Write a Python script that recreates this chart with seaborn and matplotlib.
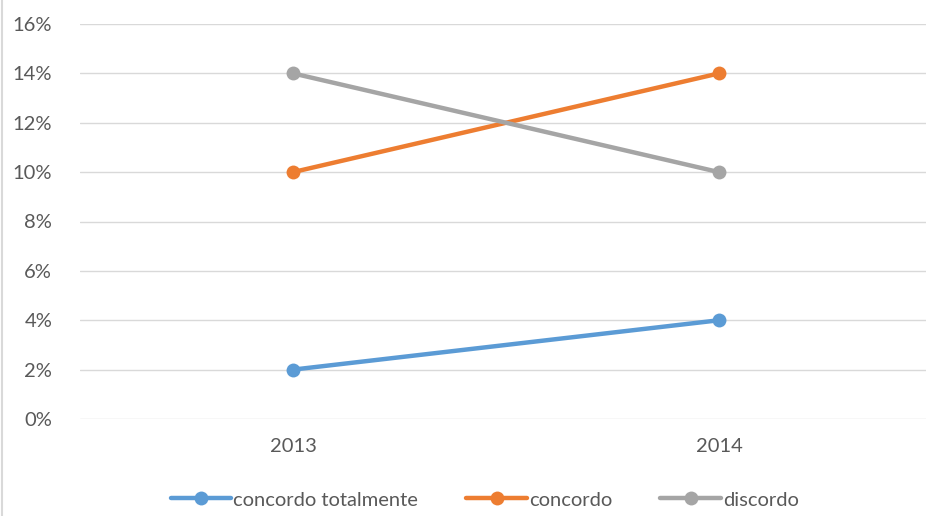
import numpy as np
import pandas as pd
import matplotlib
matplotlib.use("Agg")
import matplotlib.pyplot as plt
import seaborn as sns
from matplotlib.ticker import PercentFormatter

anos = ["2013", "2014"]
series = ["concordo totalmente", "concordo", "discordo"]
concordo_totalmente = [2, 4]
concordo = [10, 14]
discordo = [14, 10]
cores = ["#5B9BD5", "#ED7D31", "#A5A5A5"]

df = pd.DataFrame({
    "ano": anos * 3,
    "serie": [s for s in series for _ in anos],
    "valor": concordo_totalmente + concordo + discordo,
})

sns.set_theme(style="white")
plt.rcParams['font.family'] = ['Lato', 'DejaVu Sans']

fig = plt.figure(figsize=(9.26, 5.16), dpi=100)
ax = fig.add_axes([80/926, 1 - 419/516, 852/926, 395/516])

sns.lineplot(data=df, x="ano", y="valor", hue="serie", hue_order=series,
             palette=cores, marker="o", markersize=10, markeredgewidth=0,
             linewidth=3.2, ax=ax, sort=False)

ax.set_xlim(-0.5, 1.5)
ax.set_ylim(0, 16)
ax.set_yticks(np.arange(0, 17, 2))
ax.yaxis.set_major_formatter(PercentFormatter(decimals=0))
ax.grid(axis="y", color="#D9D9D9", linewidth=1)
ax.set_axisbelow(True)
for s in ax.spines.values():
    s.set_visible(False)
ax.tick_params(axis="both", length=0, labelsize=14.5, colors="#595959")
ax.tick_params(axis="y", pad=20)
ax.tick_params(axis="x", pad=14)
ax.set_xlabel("")
ax.set_ylabel("")

ax.legend(loc="center", bbox_to_anchor=(0.475, -0.205), ncol=3, frameon=False,
          fontsize=14.5, labelcolor="#595959", handlelength=3.0, handletextpad=0.1,
          columnspacing=2.4, bbox_transform=ax.transAxes)

fig.add_artist(plt.Line2D([1.5/926, 1.5/926], [0, 1], color="#D9D9D9", linewidth=1.5))

fig.savefig("out.png", dpi=100)
